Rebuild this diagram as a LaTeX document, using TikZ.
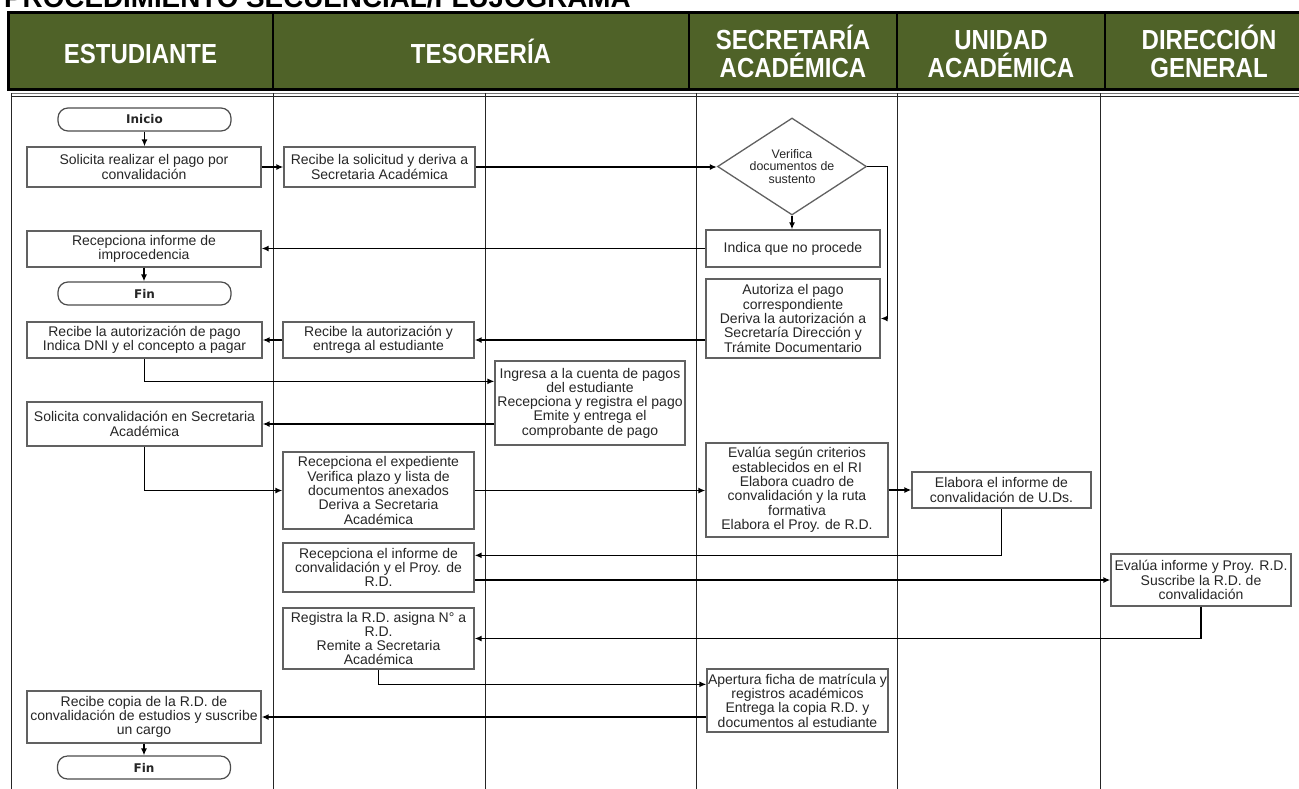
\documentclass[tikz,border=0pt]{standalone}
\usepackage{fontspec}
\usepackage{graphicx}
\setmainfont{Liberation Sans}
\newfontfamily\termfont{DejaVu Sans}
\usetikzlibrary{shapes.geometric,arrows.meta}
\definecolor{hdrgreen}{RGB}{79,98,40}
\newcommand{\hl}[1]{\scalebox{1}[1.15]{#1}}
\begin{document}
\begin{tikzpicture}[x=1pt,y=-1pt,
  box/.style={draw=black!62, line width=1.3pt, fill=white, align=center, font=\fontsize{14}{14.3}\selectfont, inner xsep=0.5pt, inner ysep=1pt, text=black!85},
  term/.style={draw=black!70, line width=1.2pt, rounded corners=10pt, font=\termfont\bfseries\fontsize{12}{12}\selectfont, minimum width=173pt, minimum height=23pt, inner sep=0pt, text=black!85},
  dec/.style={diamond, aspect=1.54, draw=black!62, line width=1.3pt, fill=white, align=center, font=\fontsize{12.4}{12.5}\selectfont, inner sep=0pt, minimum width=149pt, minimum height=97pt, text=black!85},
  arr/.style={line width=1.4pt, -{Latex[length=7pt,width=6pt]}},
  lane/.style={line width=0.9pt, black!85},
  hdr/.style={text=white, font=\bfseries\fontsize{24}{27.5}\selectfont, align=center, inner sep=0pt},
]
\useasboundingbox (0,0) rectangle (1299,788);
\clip (0,0) rectangle (1299,788);

% title
\node[anchor=base west, inner sep=0pt, font=\bfseries\fontsize{27.8}{30}\selectfont] (title) at (4,7.5) {PROCEDIMIENTO SECUENCIAL/FLUJOGRAMA};

% header
\fill[hdrgreen] (8,12) rectangle (1320,89);
\draw[line width=3pt] (8,12) rectangle (1320,89);
\foreach \x in {273,689,897,1105} \draw[line width=2pt] (\x,12) -- (\x,89);
\node[hdr] (h1) at (140.5,51) {\hl{\vphantom{Í}ESTUDIANTE}};
\node[hdr] (h2) at (481,51) {\hl{\vphantom{Í}TESORERÍA}};
\node[hdr] (h3) at (793,51.5) {\hl{\vphantom{Í}SECRETARÍA}\\\hl{ACADÉMICA}};
\node[hdr] (h4) at (1001,51.5) {\hl{\vphantom{Í}UNIDAD}\\\hl{ACADÉMICA}};
\node[hdr] (h5) at (1209,51.5) {\hl{\vphantom{Í}DIRECCIÓN}\\\hl{GENERAL}};

% body frame and lanes
\draw[black!55, line width=0.8pt] (11,93) -- (1299,93);
\draw[black!85, line width=0.8pt] (11,96) -- (1299,96);
\foreach \x in {11,273,485,696,897,1100} \draw[lane] (\x,93) -- (\x,790);

% nodes
\node[term] (inicio) at (144.5,119.5) {Inicio};
\node[box, minimum width=234pt, minimum height=40pt] (sol1) at (144,167) {Solicita realizar el pago por\\convalidación};
\node[box, minimum width=191pt, minimum height=40pt] (rec1) at (379.5,167) {Recibe la solicitud y deriva a\\Secretaria Académica};
\node[dec] (dia) at (792,166.5) {Verifica\\documentos de\\sustento};
\node[box, minimum width=174pt, minimum height=37pt] (indica) at (793,248.5) {Indica que no procede};
\node[box, minimum width=234pt, minimum height=36pt] (recimp) at (144,249) {Recepciona informe de\\improcedencia};
\node[term] (fin1) at (144.5,293.5) {Fin};
\node[box, minimum width=174pt, minimum height=79pt] (autoriza) at (793,318.5) {Autoriza el pago\\correspondiente\\Deriva la autorización a\\Secretaría Dirección y\\Trámite Documentario};
\node[box, minimum width=235pt, minimum height=36pt] (recpago) at (144.5,340) {Recibe la autorización de pago\\Indica DNI y el concepto a pagar};
\node[box, minimum width=191pt, minimum height=36pt] (recauth) at (378.5,340) {Recibe la autorización y\\entrega al estudiante};
\node[box, minimum width=190pt, minimum height=84pt] (ingresa) at (590,403) {Ingresa a la cuenta de pagos\\del estudiante\\Recepciona y registra el pago\\Emite y entrega el\\comprobante de pago};
\node[box, minimum width=235pt, minimum height=44pt] (solconv) at (144.5,424) {Solicita convalidación en Secretaria\\Académica};
\node[box, minimum width=191pt, minimum height=77pt] (recexp) at (378.5,490.5) {Recepciona el expediente\\Verifica plazo y lista de\\documentos anexados\\Deriva a Secretaria\\Académica};
\node[box, minimum width=182pt, minimum height=94pt] (evalua) at (797,490) {Evalúa según criterios\\establecidos en el RI\\Elabora cuadro de\\convalidación y la ruta\\formativa\\Elabora el Proy. de R.D.};
\node[box, minimum width=179pt, minimum height=36pt] (elabora) at (1001.5,490) {Elabora el informe de\\convalidación de U.Ds.};
\node[box, minimum width=191pt, minimum height=49pt] (recinf) at (378.5,567.5) {Recepciona el informe de\\convalidación y el Proy. de\\R.D.};
\node[box, minimum width=180pt, minimum height=52pt] (evalinf) at (1201,580) {Evalúa informe y Proy. R.D.\\Suscribe la R.D. de\\convalidación};
\node[box, minimum width=191pt, minimum height=61pt] (registra) at (378.5,638.5) {Registra la R.D. asigna N° a\\R.D.\\Remite a Secretaria\\Académica};
\node[box, minimum width=181pt, minimum height=63pt] (apertura) at (797.5,700.5) {Apertura ficha de matrícula y\\registros académicos\\Entrega la copia R.D. y\\documentos al estudiante};
\node[box, minimum width=234pt, minimum height=52pt] (reccopia) at (144,717) {Recibe copia de la R.D. de\\convalidación de estudios y suscribe\\un cargo};
\node[term] (fin2) at (144,767.5) {Fin};

% connectors
\draw[arr] (inicio.south) -- (inicio.south |- sol1.north);
\draw[arr] (sol1.east) -- (rec1.west);
\draw[arr] (rec1.east) -- (rec1.east -| dia.west);
\draw[arr] (dia.south) -- (dia.south |- indica.north);
\draw[arr] (dia.east) -- ++(20.5,0) |- (autoriza.east);
\draw[arr] (indica.west) -- (indica.west -| recimp.east);
\draw[arr] (recimp.south) -- (recimp.south |- fin1.north);
\draw[arr] (autoriza.west |- recauth.east) -- (recauth.east);
\draw[arr] (recauth.west) -- (recpago.east);
\draw[arr] (recpago.south) |- ([yshift=-21pt]ingresa.north west);
\draw[arr] (ingresa.west |- solconv.east) -- (solconv.east);
\draw[arr] (solconv.south) |- (recexp.west);
\draw[arr] (recexp.east) -- (recexp.east -| evalua.west);
\draw[arr] (evalua.east |- elabora.west) -- (elabora.west);
\draw[arr] (elabora.south) |- ([yshift=-13pt]recinf.north east);
\draw[arr] (recinf.east |- evalinf.west) -- (evalinf.west);
\draw[arr] (evalinf.south) |- (registra.east);
\draw[arr] (registra.south) |- ([yshift=-16pt]apertura.north west);
\draw[arr] (apertura.west |- reccopia.east) -- (reccopia.east);
\draw[arr] (reccopia.south) -- (reccopia.south |- fin2.north);
\end{tikzpicture}
\end{document}
